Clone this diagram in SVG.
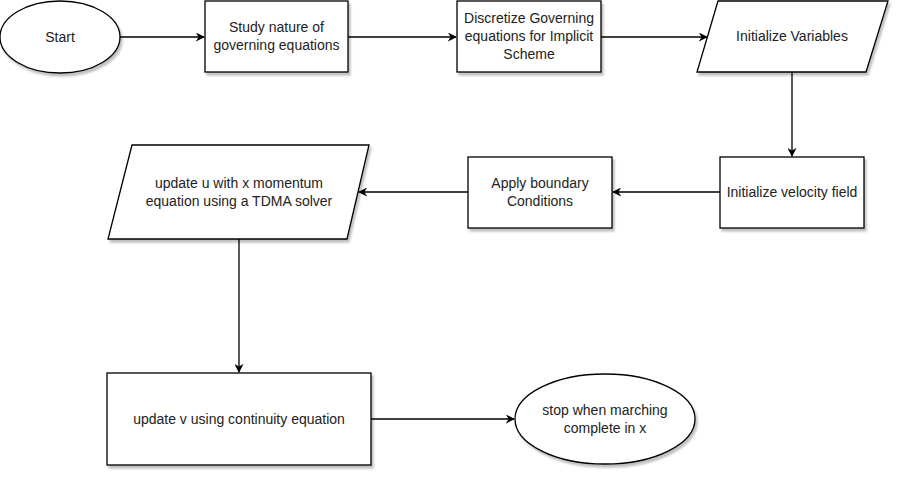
<svg xmlns="http://www.w3.org/2000/svg" width="904" height="480" viewBox="0 0 904 480">
<style>
.n{fill:#fff;stroke:#000;stroke-width:1.3;filter:url(#sh)}
.t{font-family:"Liberation Sans",Arial,sans-serif;font-size:14px;fill:#222;text-anchor:middle}
.c{fill:none;stroke:#000;stroke-width:1.3;marker-end:url(#ar)}
</style>
<defs>
<filter id="sh" x="-10%" y="-10%" width="130%" height="130%">
<feGaussianBlur in="SourceAlpha" stdDeviation="1.2"/>
<feOffset dx="2" dy="3" result="b"/>
<feComponentTransfer><feFuncA type="linear" slope="0.25"/></feComponentTransfer>
<feMerge><feMergeNode/><feMergeNode in="SourceGraphic"/></feMerge>
</filter>
<marker id="ar" viewBox="0 0 10 10" refX="9" refY="5" markerWidth="9" markerHeight="9" markerUnits="userSpaceOnUse" orient="auto">
<path d="M0,0 L10,5 L0,10 L3,5 Z" fill="#000"/>
</marker>
</defs>
<g id="start"><ellipse class="n" cx="60" cy="37" rx="60" ry="36"/><text class="t" x="60" y="42">Start</text></g>
<g id="study"><rect class="n" x="205" y="1" width="143" height="71"/><text class="t" x="276.5" y="32">Study nature of</text><text class="t" x="276.5" y="50">governing equations</text></g>
<g id="discretize"><rect class="n" x="457" y="1" width="144" height="71"/><text class="t" x="529" y="23">Discretize Governing</text><text class="t" x="529" y="41">equations for Implicit</text><text class="t" x="529" y="59">Scheme</text></g>
<g id="initvars"><polygon class="n" points="718,1 888,1 866,72 697,72"/><text class="t" x="792" y="41">Initialize Variables</text></g>
<g id="velocity"><rect class="n" x="720" y="157" width="144" height="71"/><text class="t" x="792" y="197">Initialize velocity field</text></g>
<g id="boundary"><rect class="n" x="468" y="157" width="144" height="71"/><text class="t" x="540" y="188">Apply boundary</text><text class="t" x="540" y="206">Conditions</text></g>
<g id="updateu"><polygon class="n" points="132,145 369,145 347,239 108,239"/><text class="t" x="239" y="188">update u with x momentum</text><text class="t" x="239" y="206">equation using a TDMA solver</text></g>
<g id="updatev"><rect class="n" x="107" y="373" width="264" height="92"/><text class="t" x="239" y="424">update v using continuity equation</text></g>
<g id="stop"><ellipse class="n" cx="605" cy="419" rx="90" ry="45"/><text class="t" x="605" y="415">stop when marching</text><text class="t" x="605" y="433">complete in x</text></g>
<g id="connectors">
<path class="c" d="M120,37 H204"/>
<path class="c" d="M348,37 H456"/>
<path class="c" d="M601,37 H707"/>
<path class="c" d="M792,72 V156"/>
<path class="c" d="M720,192 H613"/>
<path class="c" d="M468,192 H359"/>
<path class="c" d="M239,239 V372"/>
<path class="c" d="M371,419 H514"/>
</g>
</svg>
